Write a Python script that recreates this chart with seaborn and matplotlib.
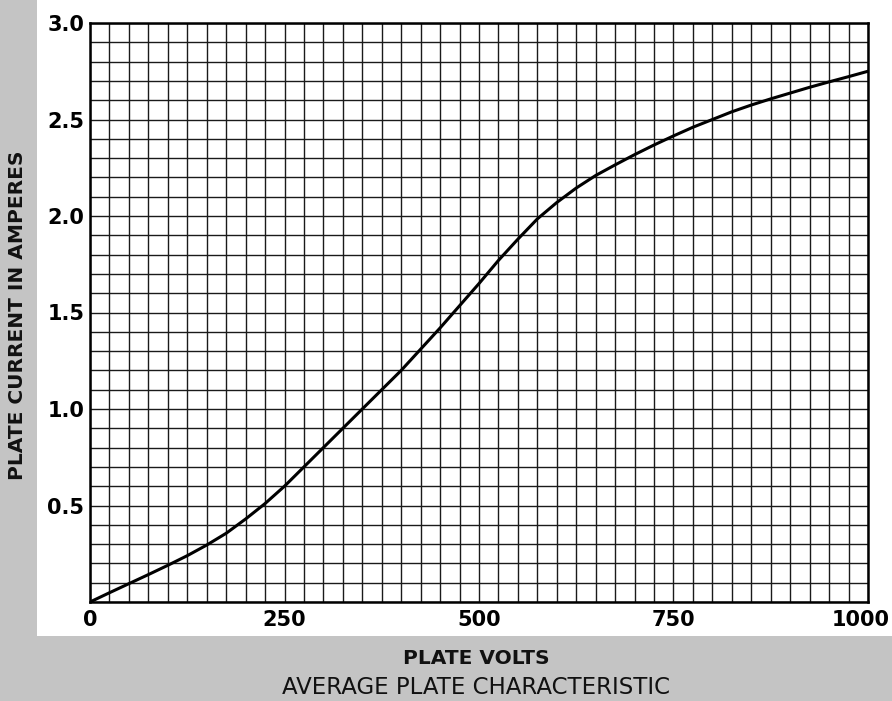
import numpy as np
import pandas as pd
import seaborn as sns
import matplotlib.pyplot as plt
import matplotlib.transforms as mtransforms
from matplotlib.patches import Rectangle
from matplotlib.ticker import MultipleLocator

# 读图得到的数据 (plate volts -> plate current)
volts = [0, 25, 50, 75, 100, 125, 150, 175, 200, 225, 250, 275, 300, 325, 350,
         375, 400, 425, 450, 475, 500, 525, 550, 575, 600, 625, 650, 675, 700,
         725, 750, 775, 800, 825, 850, 875, 900, 925, 950, 975, 1000]
amps = [0.0, 0.048, 0.095, 0.142, 0.19, 0.24, 0.295, 0.356, 0.43, 0.51, 0.60,
        0.70, 0.80, 0.90, 1.00, 1.10, 1.20, 1.31, 1.42, 1.535, 1.65, 1.77,
        1.88, 1.985, 2.07, 2.145, 2.21, 2.265, 2.318, 2.368, 2.415, 2.46, 2.50,
        2.54, 2.575, 2.607, 2.637, 2.667, 2.695, 2.722, 2.75]
x_ticks = [0, 250, 500, 750, 1000]
x_tick_labels = ['0', '250', '500', '750', '1000']
y_ticks = [0.5, 1.0, 1.5, 2.0, 2.5, 3.0]
y_tick_labels = ['0.5', '1.0', '1.5', '2.0', '2.5', '3.0']

df = pd.DataFrame({'volts': volts, 'amps': amps})

sns.set_style('white')
plt.rcParams['font.family'] = ['DejaVu Sans']

gray = '#c4c4c4'
fig = plt.figure(figsize=(8.92, 7.01), dpi=100)
fig.patch.set_facecolor(gray)
# 白色纸面
fig.patches.append(Rectangle((37 / 892, 65 / 701), 1, 1, transform=fig.transFigure,
                             facecolor='white', edgecolor='none', zorder=-5))

ax = fig.add_axes([90 / 892, 1 - 602 / 701, 778 / 892, 579 / 701])
ax.set_zorder(5)
ax.set_facecolor('white')

sns.lineplot(data=df, x='volts', y='amps', ax=ax, color='black', linewidth=2.2,
             zorder=5)

ax.set_xlim(0, 1000)
ax.set_ylim(0, 3.0)
ax.xaxis.set_minor_locator(MultipleLocator(25))
ax.yaxis.set_minor_locator(MultipleLocator(0.1))
ax.set_xticks(x_ticks)
ax.set_xticklabels(x_tick_labels, fontsize=15, fontweight='bold', color='black')
ax.set_yticks(y_ticks)
ax.set_yticklabels(y_tick_labels, fontsize=15, fontweight='bold', color='black')
ax.tick_params(axis='both', which='both', length=0)
ax.tick_params(axis='x', pad=6)
ax.tick_params(axis='y', pad=4)
ax.grid(True, which='both', color='#1a1a1a', linewidth=1.0)
for sp in ax.spines.values():
    sp.set_visible(True)
    sp.set_color('black')
    sp.set_linewidth(1.8)

# 1000 贴近右边缘, 稍微左移一点
last = ax.get_xticklabels()[-1]
last.set_transform(last.get_transform() +
                   mtransforms.ScaledTranslation(-7 / 100, 0, fig.dpi_scale_trans))

ax.set_xlabel('')
ax.set_ylabel('')

fig.text(18 / 892, 1 - 315 / 701, 'PLATE CURRENT IN AMPERES', rotation=90,
         ha='center', va='center', fontsize=14.5, fontweight='bold', color='#111111')
fig.text(476 / 892, 1 - 659 / 701, 'PLATE VOLTS', ha='center', va='center',
         fontsize=14.5, fontweight='bold', color='#111111')
fig.text(476 / 892, 1 - 688 / 701, 'AVERAGE PLATE CHARACTERISTIC', ha='center',
         va='center', fontsize=16.5, color='#111111')

fig.savefig('out.png', dpi=100, facecolor=fig.get_facecolor())
